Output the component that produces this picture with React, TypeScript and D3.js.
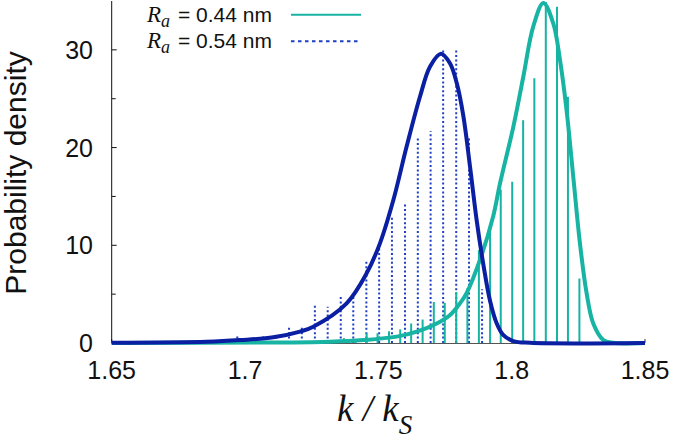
import React from "react";
import * as d3 from "d3";

// ---- data ----
const xTicks = [1.65, 1.7, 1.75, 1.8, 1.85];
const xTickLabels = ["1.65", "1.7", "1.75", "1.8", "1.85"];
const yTicks = [0, 10, 20, 30];
const yMinorTicks = [5, 15, 25];

// histogram R_a = 0.54 nm (blue dotted bars)
const binsB = [1.673, 1.6827, 1.6876, 1.6923, 1.6971, 1.702, 1.7068, 1.7117, 1.7165, 1.7213, 1.7262, 1.731, 1.7359, 1.7406, 1.7455, 1.7503, 1.7551, 1.76, 1.7648, 1.7696, 1.7743, 1.7792, 1.784, 1.7889];
const histB = [0.2, 0.2, 0.2, 0.1, 0.75, 0.5, 0.9, 0.9, 1.8, 1.8, 3.8, 3.7, 4.7, 4.7, 8.5, 10.0, 12.9, 14.4, 21.0, 21.7, 30.1, 30.0, 21.0, 5.5];

// histogram R_a = 0.44 nm (teal bars)
const binsA = [1.7371, 1.7414, 1.7456, 1.7497, 1.754, 1.7582, 1.7623, 1.7666, 1.7708, 1.7749, 1.7792, 1.7834, 1.7877, 1.7919, 1.7959, 1.8002, 1.8043, 1.8085, 1.8128, 1.817, 1.8211, 1.8254];
const histA = [0.5, 0.3, 1.0, 1.0, 1.2, 1.4, 2.0, 2.4, 4.2, 4.1, 5.2, 5.6, 9.5, 11.8, 15.7, 16.5, 22.8, 27.1, 34.9, 34.4, 25.2, 6.6];

// fitted density curves
const curveAx = [1.65, 1.7131, 1.7319, 1.7444, 1.7569, 1.7644, 1.7719, 1.7769, 1.7806, 1.7831, 1.7881, 1.7931, 1.7956, 1.8006, 1.8044, 1.8081, 1.8119, 1.8156, 1.8181, 1.8206, 1.8231, 1.8256, 1.8281, 1.8306, 1.8344, 1.838, 1.85];
const curveAy = [0, 0.05, 0.13, 0.3, 0.65, 1.16, 2.0, 2.87, 4.06, 5.1, 8.5, 13.0, 16.3, 22.1, 27.3, 32.4, 34.8, 32.7, 29.0, 23.8, 17.0, 10.2, 5.1, 2.0, 0.3, 0.02, 0];

const curveBx = [1.65, 1.6856, 1.6981, 1.7106, 1.7206, 1.7256, 1.7381, 1.7456, 1.7506, 1.7556, 1.7606, 1.7656, 1.7694, 1.7735, 1.7769, 1.7794, 1.7819, 1.7844, 1.7869, 1.7894, 1.7919, 1.7944, 1.7969, 1.8006, 1.8069, 1.85];
const curveBy = [0.03, 0.13, 0.3, 0.58, 1.16, 1.67, 4.06, 7.13, 10.2, 14.6, 20.1, 25.2, 28.3, 29.6, 28.6, 26.6, 23.2, 18.0, 12.5, 8.0, 4.3, 2.0, 0.8, 0.2, 0.02, 0];

const legendLabels = ["0.44 nm", "0.54 nm"];

// ---- styles ----
const TEAL = "#17b3a3";
const BLUE = "#0b1fa3";
const BLUE_BAR = "#1f3fc4";
const SANS = "'Liberation Sans', Arial, Helvetica, sans-serif";
const SERIF = "'Liberation Serif', 'Times New Roman', serif";

export default function App() {
  const W = 675, H = 439;
  const x = d3.scaleLinear().domain([1.65, 1.85]).range([111.7, 645]);
  const y = d3.scaleLinear().domain([0, 35]).range([343, 1]);

  const line = d3
    .line<[number, number]>()
    .x((d) => x(d[0]))
    .y((d) => y(d[1]))
    .curve(d3.curveCatmullRom.alpha(0.5));

  const ptsA = curveAx.map((v, i) => [v, curveAy[i]] as [number, number]);
  const ptsB = curveBx.map((v, i) => [v, curveBy[i]] as [number, number]);

  return (
    <svg
      width={W}
      height={H}
      style={{ position: "absolute", left: 0, top: 0, background: "#fff" }}
    >
      {/* x axis baseline */}
      <line x1={x(1.65)} x2={x(1.85)} y1={y(0) + 0.5} y2={y(0) + 0.5} stroke="#555" strokeWidth={1} />
      {xTicks.map((t) => (
        <line key={"xt" + t} x1={x(t)} x2={x(t)} y1={y(0)} y2={y(0) - 4} stroke="#333" strokeWidth={1} />
      ))}

      {/* y axis */}
      <line x1={x(1.65)} x2={x(1.65)} y1={y(35)} y2={y(0)} stroke="#111" strokeWidth={1} />
      {yTicks.map((t) => (
        <line key={"yt" + t} x1={x(1.65)} x2={x(1.65) + 5} y1={y(t)} y2={y(t)} stroke="#111" strokeWidth={1} />
      ))}
      {yMinorTicks.map((t) => (
        <line key={"ym" + t} x1={x(1.65)} x2={x(1.65) + 4} y1={y(t)} y2={y(t)} stroke="#111" strokeWidth={1} />
      ))}

      {/* tick labels */}
      {yTicks.map((t) => (
        <text key={"yl" + t} x={93} y={y(t)} dy="0.36em" textAnchor="end" fontFamily={SANS} fontSize={25} fill="#111">
          {t}
        </text>
      ))}
      {xTicks.map((t, i) => (
        <text key={"xl" + t} x={x(t)} y={379} textAnchor="middle" fontFamily={SANS} fontSize={25} fill="#111">
          {xTickLabels[i]}
        </text>
      ))}

      {/* axis titles */}
      <text
        transform="translate(26,173) rotate(-90)"
        textAnchor="middle"
        fontFamily={SANS}
        fontSize={30}
        fill="#111"
      >
        Probability density
      </text>
      <text x={337} y={421} fontFamily={SERIF} fontStyle="italic" fontSize={37} fill="#111">
        k / k
        <tspan fontSize={27} dy={13}>S</tspan>
      </text>

      {/* histogram bars: 0.54 nm (dotted blue) */}
      {binsB.map((b, i) => (
        <line
          key={"hb" + i}
          x1={x(b)}
          x2={x(b)}
          y1={y(0)}
          y2={y(histB[i])}
          stroke={BLUE_BAR}
          strokeWidth={2}
          strokeDasharray="2,2.4"
        />
      ))}
      {/* histogram bars: 0.44 nm (solid teal) */}
      {binsA.map((b, i) => (
        <line
          key={"ha" + i}
          x1={x(b)}
          x2={x(b)}
          y1={y(0)}
          y2={y(histA[i])}
          stroke={TEAL}
          strokeWidth={2}
        />
      ))}

      {/* fitted curves */}
      <path d={line(ptsA) || ""} fill="none" stroke={TEAL} strokeWidth={4} strokeLinejoin="round" />
      <path d={line(ptsB) || ""} fill="none" stroke={BLUE} strokeWidth={4} strokeLinejoin="round" />

      {/* legend */}
      {legendLabels.map((lab, i) => {
        const by = 21.7 + i * 26.6;
        return (
          <g key={"lg" + i}>
            <text x={147} y={by} fontFamily={SERIF} fontStyle="italic" fontSize={23} fill="#111">
              R<tspan fontSize={18} dy={5}>a</tspan>
            </text>
            <text x={178} y={by} fontFamily={SANS} fontSize={21} fill="#111">
              = {lab}
            </text>
            <line
              x1={291}
              x2={361}
              y1={by - 7}
              y2={by - 7}
              stroke={i === 0 ? TEAL : BLUE_BAR}
              strokeWidth={2}
              strokeDasharray={i === 0 ? undefined : "3.5,3.5"}
            />
          </g>
        );
      })}
    </svg>
  );
}
